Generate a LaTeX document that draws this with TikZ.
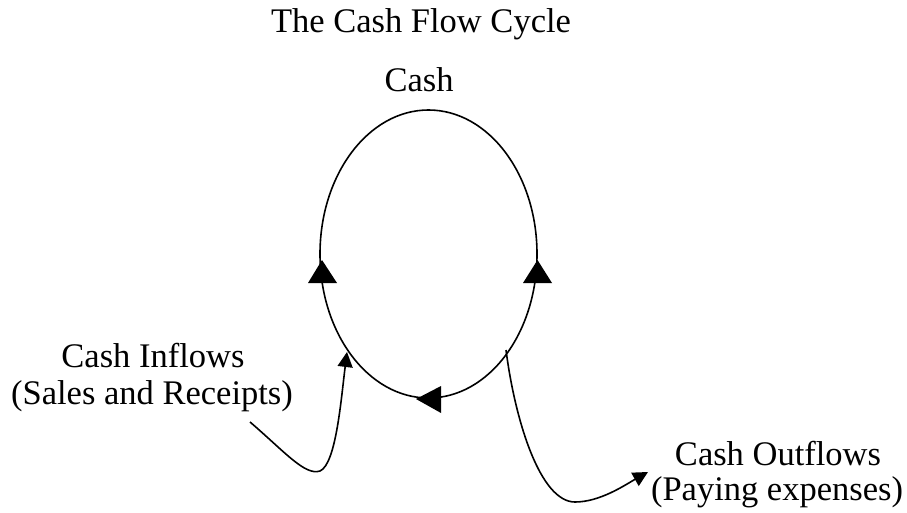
\documentclass[tikz,border=0pt]{standalone}
\usepackage{fontspec}
\setmainfont{Liberation Serif}
\usetikzlibrary{arrows.meta,shapes.geometric}
\tikzset{
  lbl/.style={font=\fontsize{34.5}{38}\selectfont, inner sep=0pt, anchor=base},
  loopline/.style={draw, line width=1.6pt},
  flow/.style={line width=1.6pt, -{Triangle[length=15pt,width=15pt]}},
  headtri/.style={fill=black}
}
\begin{document}
\begin{tikzpicture}[x=1pt,y=-1pt]
\useasboundingbox (0,0) rectangle (907,513);
\node[lbl] (title) at (421,33) {The Cash Flow Cycle};
\node[lbl] (cash) at (419,92) {Cash};
\node[ellipse, loopline, inner sep=0pt, minimum width=217pt, minimum height=288pt] (loop) at (428.5,254) {};
% arrowheads on the cycle
\fill[headtri] (322,260) -- (337,283) -- (308,283) -- cycle;
\fill[headtri] (537.5,260) -- (552,283) -- (523,283) -- cycle;
\fill[headtri] (416,399) -- (441,386) -- (441,413) -- cycle;
% labels
\node[lbl] (in1) at (153,367) {Cash Inflows};
\node[lbl] (in2) at (152,404) {(Sales and Receipts)};
\node[lbl] (out1) at (778,465) {Cash Outflows};
\node[lbl] (out2) at (777,500) {(Paying expenses)};
% connectors
\coordinate (inStart) at (250,422);
\coordinate (inEnd) at (347,352);
\coordinate (outStart) at (506,350);
\coordinate (outEnd) at (648,472);
\draw[flow] (inStart) .. controls (285,452) and (305,476) .. (320,471)
  .. controls (336,464) and (341,400) .. (inEnd);
\draw[flow] (outStart) .. controls (515,420) and (540,502) .. (575,502)
  .. controls (600,502) and (625,485) .. (outEnd);
\end{tikzpicture}
\end{document}
